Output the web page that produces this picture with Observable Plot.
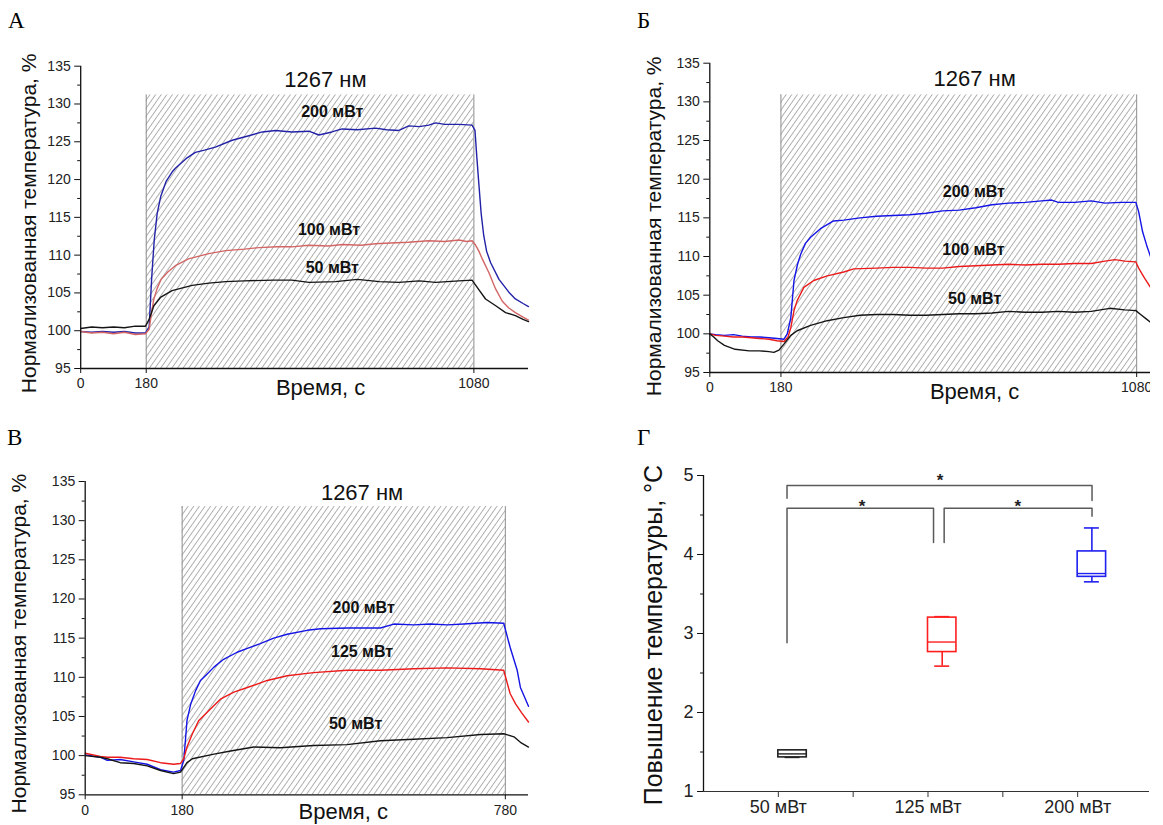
<!DOCTYPE html>
<html><head><meta charset="utf-8">
<script src="https://cdn.jsdelivr.net/npm/d3@7"></script>
<script src="https://cdn.jsdelivr.net/npm/@observablehq/plot@0.6"></script>
<style>
body{margin:0;background:#fff;}
#root{position:relative;width:1163px;height:825px;overflow:hidden;background:#fff;}
.panel{position:absolute;overflow:hidden;}
.letter{position:absolute;font-family:"Liberation Serif","Times New Roman",serif;font-size:23px;line-height:1;color:#000;}
</style></head>
<body><div id="root"></div>
<script>
// ---------- Panel А (x: time, s; y: normalized temperature, %) ----------
const aBlueT = [0,30,60,90,120,150,178,188,195,202,210,220,235,251,260,290,315,340,370,416,462,499,535,580,627,654,690,718,760,810,840,874,901,930,956,975,1000,1039,1075,1083,1088,1094,1100,1107,1115,1126,1149,1176,1194,1215,1230];
const aBlueV = [99.9,99.8,99.9,99.8,99.9,99.7,99.7,100.5,107,112,115.5,117.8,119.8,121,121.5,122.8,123.6,123.9,124.3,125.2,125.8,126.3,126.5,126.3,126.4,125.9,126.3,126.7,126.6,126.8,126.6,126.5,127.1,127.0,127.2,127.5,127.3,127.3,127.2,126.5,123,119.2,115.5,112.6,110.5,109.0,106.8,105.1,104.2,103.6,103.2];
const aRedT = [0,30,60,90,120,150,178,188,195,201,210,221,240,260,296,352,398,450,490,540,580,627,680,720,770,810,850,900,956,1000,1039,1060,1075,1085,1094,1103,1121,1140,1158,1176,1194,1215,1230];
const aRedV = [99.9,99.7,99.8,99.6,99.8,99.5,99.6,100.2,102.5,104.2,105.6,106.8,107.8,108.6,109.5,110.2,110.6,110.8,111.0,111.1,111.1,111.3,111.2,111.4,111.3,111.5,111.6,111.7,111.9,111.8,112.0,111.8,111.9,111.3,110.5,109.5,107.7,105.5,103.9,103.0,102.4,101.8,101.4];
const aBlackT = [0,30,60,90,120,150,178,188,201,219,251,306,352,398,450,530,580,627,700,760,820,874,930,975,1039,1075,1094,1112,1140,1167,1194,1215,1230];
const aBlackV = [100.3,100.5,100.4,100.5,100.4,100.6,100.6,101.5,103.3,104.4,105.3,106.0,106.3,106.5,106.6,106.7,106.7,106.4,106.5,106.8,106.5,106.4,106.6,106.4,106.6,106.7,105.4,104.2,103.3,102.4,102.0,101.5,101.2];
const aLabels = ["200 мВт","100 мВт","50 мВт"];
const aLabelT = [691, 682, 691];
const aLabelV = [128.9, 113.3, 108.3];

// ---------- Panel Б ----------
const bBlueT = [0,15,37,60,82,105,126,150,170,188,196,205,213,222,230,242,255,280,313,339,380,422,464,506,547,589,631,673,714,756,798,840,865,882,923,965,1000,1040,1078,1085,1095,1105,1115];
const bBlueV = [100.0,99.9,99.8,99.9,99.7,99.6,99.6,99.5,99.4,99.3,100.0,102.1,106.9,109.0,110.3,111.7,112.5,113.6,114.6,114.7,115.0,115.2,115.3,115.4,115.6,115.9,116.0,116.3,116.7,116.9,117.0,117.2,117.3,117.0,117.0,117.2,116.9,117.0,117.0,115.8,113.2,111.5,110.0];
const bRedT = [0,15,37,60,82,105,126,150,170,188,198,205,213,221,238,263,297,339,364,422,464,506,547,589,631,673,714,756,798,840,882,923,965,1000,1025,1050,1078,1085,1100,1115];
const bRedV = [100.0,99.8,99.7,99.6,99.6,99.5,99.4,99.3,99.1,99.0,99.6,100.8,103.0,104.3,106.0,106.9,107.5,108.0,108.4,108.5,108.6,108.6,108.5,108.5,108.7,108.8,108.9,109.0,108.9,109.0,109.0,109.1,109.1,109.4,109.6,109.4,109.3,108.5,107.2,106.0];
const bBlackT = [0,10,20,37,64,100,126,150,162,175,188,205,221,255,297,339,380,422,464,506,547,589,631,673,714,756,798,840,882,923,965,1012,1050,1078,1090,1105,1115];
const bBlackV = [100.0,99.6,99.1,98.5,98.0,97.8,97.8,97.7,97.6,97.9,98.7,99.8,100.4,101.1,101.7,102.1,102.4,102.5,102.5,102.4,102.4,102.5,102.6,102.6,102.7,102.9,102.8,102.8,102.9,102.8,102.9,103.3,103.1,103.0,102.5,101.9,101.5];
const bLabels = ["200 мВт","100 мВт","50 мВт"];
const bLabelT = [668, 667, 670];
const bLabelV = [118.3, 110.8, 104.5];

// ---------- Panel В ----------
const vBlueT = [0,28,41,65,90,115,140,164,177,183,186,189,196,205,214,226,239,257,282,301,325,350,375,412,437,486,548,573,610,641,672,703,746,777,789,802,808,823];
const vBlueV = [100.1,99.8,99.4,99.5,99.2,98.9,98.2,97.9,98.1,99.4,101.9,104.5,106.6,108.3,109.6,110.4,111.3,112.3,113.2,113.7,114.3,115.0,115.5,116.0,116.2,116.3,116.3,116.8,116.7,116.8,116.7,116.8,117.0,116.9,113.8,110.9,108.7,106.3];
const vRedT = [0,28,41,65,90,115,140,164,177,183,189,199,211,226,251,276,301,338,375,424,486,548,610,672,734,777,789,799,810,823];
const vRedV = [100.3,99.9,99.8,99.8,99.6,99.5,99.1,98.9,99.0,99.6,101.1,102.8,104.5,105.5,107.2,108.1,108.7,109.6,110.2,110.6,110.9,110.9,111.1,111.2,111.1,110.9,107.9,106.6,105.5,104.3];
const vBlackT = [0,28,41,65,90,115,140,164,177,189,199,239,270,313,362,424,486,548,610,672,734,777,796,808,823];
const vBlackV = [100.0,99.8,99.6,99.1,99.0,98.7,98.1,97.7,97.9,99.1,99.6,100.2,100.6,101.1,101.0,101.3,101.4,101.9,102.1,102.3,102.7,102.8,102.4,101.7,101.1];
const vLabels = ["200 мВт","125 мВт","50 мВт"];
const vLabelT = [517, 514, 502];
const vLabelV = [118.9, 113.2, 104.1];

// ---------- Panel Г (box plots) ----------
const gCategories = ["50 мВт","125 мВт","200 мВт"];
const gQ1 = [1.432, 2.765, 3.717];
const gMedian = [1.476, 2.892, 3.759];
const gQ3 = [1.521, 3.201, 4.039];
const gWhiskerLow = [1.432, 2.587, 3.654];
const gWhiskerHigh = [1.521, 3.213, 4.336];
const gColors = ["#222222", "#ff1f1f", "#2020f0"];
// significance brackets (x in category index units, y in °C)
const bracketX = [[1.058,1.058,3.096,3.096],[1.058,1.058,2.037,2.037],[2.108,2.108,3.096,3.096]];
const bracketY = [[4.712,4.873,4.873,4.683],[2.883,4.585,4.585,4.153],[4.153,4.585,4.585,4.483]];
const starX = [2.081, 1.559, 2.60];
const starY = [5.0, 4.674, 4.674];

const titleText = "1267 нм";
const yTitleTime = "Нормализованная температура, %";
const xTitleTime = "Время, с";
const yTitleBox = "Повышение температуры, °С";
const yMajor = [95,100,105,110,115,120,125,130,135];
const yMinor = [97.5,102.5,107.5,112.5,117.5,122.5,127.5,132.5];

const FONT = '"Liberation Sans", Arial, Helvetica, sans-serif';
const root = document.getElementById("root");
const plain = d => String(d);

function addHatch(svg, id) {
  const defs = d3.select(svg).insert("defs", ":first-child");
  const p = defs.append("pattern").attr("id", id)
    .attr("patternUnits", "userSpaceOnUse")
    .attr("width", 4.6).attr("height", 10)
    .attr("patternTransform", "rotate(35)");
  p.append("line").attr("x1", 2.3).attr("y1", 0).attr("x2", 2.3).attr("y2", 10)
    .attr("stroke", "#9a9a9a").attr("stroke-width", 0.8);
}

function place(el, left, top, width, height) {
  const div = document.createElement("div");
  div.className = "panel";
  Object.assign(div.style, {left: left + "px", top: top + "px", width: width + "px", height: height + "px"});
  div.appendChild(el);
  root.appendChild(div);
}

function timePanel(c) {
  const marks = [
    Plot.rect([c.irr], {x1: d => d[0], x2: d => d[1], y1: 95, y2: c.irrTop, fill: `url(#${c.id})`}),
    Plot.ruleX(c.irr, {y1: 95, y2: c.irrTop, stroke: "#8c8c8c", strokeWidth: 1}),
    ...c.series.map(s => Plot.line(s.t.map((t, i) => [t, s.v[i]]), {stroke: s.color, strokeWidth: 1.4})),
    Plot.ruleX([c.xDomain[0]], {y1: 95, y2: 135, stroke: "#111", strokeWidth: 1.3}),
    Plot.ruleY([95], {x1: c.xDomain[0], x2: c.xDomain[1], stroke: "#111", strokeWidth: 1.3}),
    Plot.axisY(yMajor, {tickSize: 6, tickPadding: 4, fontSize: 14, tickFormat: plain, label: null, stroke: "#111", fill: "#222"}),
    Plot.axisY(yMinor, {tickSize: 3, tickFormat: () => "", label: null, stroke: "#111"}),
    Plot.axisX(c.xTicks, {tickSize: 5, tickPadding: 5, fontSize: 14, tickFormat: plain, label: null, stroke: "#111", fill: "#222"}),
    Plot.text([titleText], {x: c.titleT, y: c.titleV, text: d => d, fontSize: 22, fill: "#111"}),
    Plot.text(c.labels, {x: (d, i) => c.labelT[i], y: (d, i) => c.labelV[i], text: d => d, fontSize: 16, fontWeight: "bold", fill: "#111"}),
    Plot.text([xTitleTime], {x: c.xTitleT, frameAnchor: "bottom", dy: c.xTitleDy, text: d => d, fontSize: 22, fill: "#111", textAnchor: "middle", lineAnchor: "middle"}),
    Plot.text([yTitleTime], {y: c.yTitleV, frameAnchor: "left", dx: c.yTitleDx, rotate: -90, text: d => d, fontSize: 21, fill: "#111", textAnchor: "middle", lineAnchor: "middle"})
  ];
  const svg = Plot.plot({
    width: c.width, height: c.height,
    marginLeft: c.ml, marginRight: c.mr, marginTop: c.mt, marginBottom: c.mb,
    x: {domain: c.xDomain},
    y: {domain: [95, 135]},
    style: {fontFamily: FONT, background: "white", overflow: "visible"},
    marks
  });
  addHatch(svg, c.id);
  place(svg, c.left, c.top, c.width, c.height);
}

timePanel({
  id: "hatchA", left: 0, top: 0, width: 540, height: 410, ml: 80.2, mr: 12, mt: 65.7, mb: 42,
  xDomain: [0, 1230], xTicks: [0, 180, 1080], irr: [180, 1080], irrTop: 131.2,
  series: [{t: aBlueT, v: aBlueV, color: "#2222a8"}, {t: aRedT, v: aRedV, color: "#d36565"}, {t: aBlackT, v: aBlackV, color: "#151515"}],
  labels: aLabels, labelT: aLabelT, labelV: aLabelV,
  titleT: 672, titleV: 133.2, xTitleT: 659, xTitleDy: 19, yTitleV: 114.2, yTitleDx: -51
});
timePanel({
  id: "hatchB", left: 580, top: 0, width: 570, height: 410, ml: 129.3, mr: 0, mt: 62.7, mb: 38,
  xDomain: [0, 1115], xTicks: [0, 180, 1080], irr: [180, 1080], irrTop: 130.9,
  series: [{t: bBlueT, v: bBlueV, color: "#1414e6"}, {t: bRedT, v: bRedV, color: "#ec1a1a"}, {t: bBlackT, v: bBlackV, color: "#151515"}],
  labels: bLabels, labelT: bLabelT, labelV: bLabelV,
  titleT: 670, titleV: 132.9, xTitleT: 670, xTitleDy: 19, yTitleV: 113.9, yTitleDx: -56
});
timePanel({
  id: "hatchV", left: 0, top: 410, width: 540, height: 415, ml: 84.7, mr: 12, mt: 71, mb: 30.7,
  xDomain: [0, 823], xTicks: [0, 180, 780], irr: [180, 780], irrTop: 131.8,
  series: [{t: vBlueT, v: vBlueV, color: "#1414e6"}, {t: vRedT, v: vRedV, color: "#ec1a1a"}, {t: vBlackT, v: vBlackV, color: "#151515"}],
  labels: vLabels, labelT: vLabelT, labelV: vLabelV,
  titleT: 514, titleV: 133.5, xTitleT: 479, xTitleDy: 17, yTitleV: 114.3, yTitleDx: -66
});

// Panel Г
(function () {
  const idx = gCategories.map((d, i) => i);
  const brackets = bracketX.flatMap((xs, k) => xs.map((x, j) => ({k, x, y: bracketY[k][j]})));
  const svg = Plot.plot({
    width: 583, height: 415, marginLeft: 123, marginRight: 14, marginTop: 65, marginBottom: 34,
    x: {domain: [0.5, 3.48]},
    y: {domain: [1, 5]},
    color: {type: "identity"},
    style: {fontFamily: FONT, background: "white", overflow: "visible"},
    marks: [
      Plot.line(brackets, {x: "x", y: "y", z: "k", stroke: "#5a5a5a", strokeWidth: 1.5}),
      Plot.text(starX, {x: d => d, y: (d, i) => starY[i], text: () => "*", fontSize: 17, fontWeight: "bold", fill: "#222", dy: 5}),
      Plot.ruleX(idx, {x: i => i + 1.095, y1: i => gWhiskerLow[i], y2: i => gQ1[i], stroke: i => gColors[i], strokeWidth: 1.6}),
      Plot.ruleX(idx, {x: i => i + 1.095, y1: i => gQ3[i], y2: i => gWhiskerHigh[i], stroke: i => gColors[i], strokeWidth: 1.6}),
      Plot.ruleY(idx, {y: i => gWhiskerLow[i], x1: i => i + 1.045, x2: i => i + 1.145, stroke: i => gColors[i], strokeWidth: 1.6}),
      Plot.ruleY(idx, {y: i => gWhiskerHigh[i], x1: i => i + 1.045, x2: i => i + 1.145, stroke: i => gColors[i], strokeWidth: 1.6}),
      Plot.rect(idx, {x1: i => i + 1, x2: i => i + 1.19, y1: i => gQ1[i], y2: i => gQ3[i], fill: "white", stroke: i => gColors[i], strokeWidth: 1.6}),
      Plot.ruleY(idx, {y: i => gMedian[i], x1: i => i + 1, x2: i => i + 1.19, stroke: i => gColors[i], strokeWidth: 1.4}),
      Plot.ruleX([0.5], {y1: 1, y2: 5, stroke: "#111", strokeWidth: 1.3}),
      Plot.ruleY([1], {x1: 0.5, x2: 3.48, stroke: "#333", strokeWidth: 1.2}),
      Plot.axisY([1, 2, 3, 4, 5], {tickSize: 6, tickPadding: 4, fontSize: 18, tickFormat: plain, label: null, stroke: "#111", fill: "#222"}),
      Plot.axisY([1.5, 2.5, 3.5, 4.5], {tickSize: 3, tickFormat: () => "", label: null, stroke: "#111"}),
      Plot.axisX([1, 2, 3], {tickSize: 6, tickPadding: 3, fontSize: 18, tickFormat: v => gCategories[v - 1], label: null, stroke: "#333", fill: "#222"}),
      Plot.axisX([1.5, 2.5], {tickSize: 6, tickFormat: () => "", label: null, stroke: "#333"}),
      Plot.text([yTitleBox], {y: 2.98, frameAnchor: "left", dx: -50, rotate: -90, text: d => d, fontSize: 25, fill: "#111", textAnchor: "middle", lineAnchor: "middle"})
    ]
  });
  place(svg, 580, 410, 583, 415);
})();

// Panel letters
[["А", 8, 9], ["Б", 637, 9], ["В", 7, 426], ["Г", 637, 426]].forEach(([t, x, y]) => {
  const d = document.createElement("div");
  d.className = "letter";
  d.textContent = t;
  d.style.left = x + "px";
  d.style.top = y + "px";
  root.appendChild(d);
});
</script>
</body></html>
